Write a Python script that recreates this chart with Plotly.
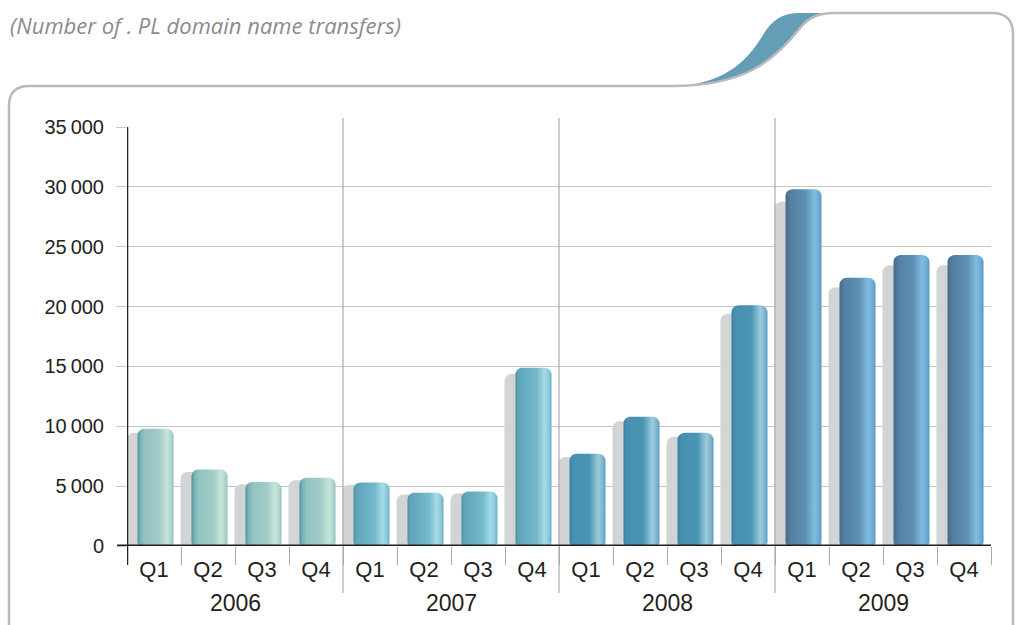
import math
import plotly.graph_objects as go

# ---------------- data ----------------
years = ["2006", "2007", "2008", "2009"]
quarters = ["Q1", "Q2", "Q3", "Q4"]
values = [9800, 6400, 5350, 5700,
          5300, 4450, 4550, 14900,
          7700, 10800, 9450, 20100,
          29800, 22400, 24300, 24300]
y_tickvals = [0, 5000, 10000, 15000, 20000, 25000, 30000, 35000]
y_ticktext = ["0", "5\u202f000", "10\u202f000", "15\u202f000", "20\u202f000",
              "25\u202f000", "30\u202f000", "35\u202f000"]
title_text = "(Number of . PL domain name transfers)"

year_scales = {
    "2006": [[0, "#45949a"], [0.08, "#79b2b4"], [0.2, "#93c3c3"], [0.6, "#a2ccc8"],
             [0.82, "#c6e5da"], [0.93, "#b0d6ce"], [1, "#8fbebe"]],
    "2007": [[0, "#4f8e9e"], [0.08, "#5fa5b8"], [0.3, "#67adc2"], [0.6, "#76b9cc"],
             [0.8, "#a5dbe6"], [0.92, "#8ccbdc"], [1, "#6aaec4"]],
    "2008": [[0, "#3d7f9d"], [0.1, "#4690b0"], [0.55, "#4a95b4"], [0.8, "#9ccbdd"],
             [0.92, "#7fb6cf"], [1, "#5a9ec0"]],
    "2009": [[0, "#476b8a"], [0.15, "#5480a2"], [0.55, "#5d90b3"], [0.8, "#80bde2"],
             [0.92, "#6eacd4"], [1, "#5a96c0"]],
}

# ---------------- geometry helpers ----------------
W, H = 1016, 625
ML, MR, MT, MB = 127, 25, 127, 79
PW, PH = W - ML - MR, H - MT - MB
YMAX = 35000
XMIN, XMAX = -0.5, 15.5
ux = PW / (XMAX - XMIN)  # px per x unit
uy = PH / YMAX           # px per y unit


def px2paper(px, py):
    return (px - ML) / PW, (H - MB - py) / PH


n = len(values)
xpos = list(range(n))
bar_w = 0.667
shadow_off = 9.5 / ux
shadow_vals = [v * 0.965 for v in values]

fig = go.Figure()

# shadows
fig.add_trace(go.Bar(
    x=xpos, y=shadow_vals, width=bar_w, offset=-bar_w / 2 - shadow_off,
    marker=dict(color="#d3d4d6", line=dict(width=0), cornerradius=7),
    hoverinfo="skip", showlegend=False))


def rounded_rect(x0, x1, y0, y1, r_px_top=7, r_px_bot=4):
    rxt, ryt = r_px_top / ux, r_px_top / uy
    rxb, ryb = r_px_bot / ux, r_px_bot / uy
    xs, ys = [], []
    steps = 8
    for k in range(steps + 1):
        a = math.pi + k * (math.pi / 2) / steps
        xs.append(x0 + rxb + rxb * math.cos(a)); ys.append(y0 + ryb + ryb * math.sin(a))
    for k in range(steps + 1):
        a = 1.5 * math.pi + k * (math.pi / 2) / steps
        xs.append(x1 - rxb + rxb * math.cos(a)); ys.append(y0 + ryb + ryb * math.sin(a))
    for k in range(steps + 1):
        a = k * (math.pi / 2) / steps
        xs.append(x1 - rxt + rxt * math.cos(a)); ys.append(y1 - ryt + ryt * math.sin(a))
    for k in range(steps + 1):
        a = 0.5 * math.pi + k * (math.pi / 2) / steps
        xs.append(x0 + rxt + rxt * math.cos(a)); ys.append(y1 - ryt + ryt * math.sin(a))
    xs.append(xs[0]); ys.append(ys[0])
    return xs, ys


# main bars: rounded rectangles with horizontal gradients
for i, v in enumerate(values):
    yr = years[i // 4]
    x0 = xpos[i] - bar_w / 2 + 1.5 / ux
    x1 = xpos[i] + bar_w / 2 + 1.5 / ux
    xs, ys = rounded_rect(x0, x1, 0, v)
    fig.add_trace(go.Scatter(
        x=xs, y=ys, mode="none", fill="toself",
        fillgradient=dict(type="horizontal", colorscale=year_scales[yr], start=x0, stop=x1),
        hoverinfo="skip", showlegend=False))

# ---------------- decorations ----------------
shapes = []
grey = "#b9babd"


def P(px, py):
    a, b = px2paper(px, py)
    return f"{a:.5f},{b:.5f}"


frame = (f"M {P(9, 640)} L {P(9, 106)} Q {P(9, 86)} {P(29, 86)} L {P(673, 86)} "
         f"C {P(745, 86)} {P(775, 60)} {P(800, 28)} C {P(810, 16)} {P(820, 13)} {P(835, 13)} "
         f"L {P(992, 13)} Q {P(1013, 13)} {P(1013, 34)} L {P(1013, 640)}")

wave = (f"M {P(673, 86)} C {P(720, 85)} {P(745, 65)} {P(763, 35)} "
        f"C {P(772, 20)} {P(782, 13)} {P(800, 13)} L {P(835, 13)} "
        f"C {P(820, 13)} {P(810, 16)} {P(800, 28)} C {P(775, 60)} {P(745, 86)} {P(673, 86)} Z")
shapes.append(dict(type="path", path=wave, xref="paper", yref="paper",
                   fillcolor="#639db6", line=dict(width=0), layer="below"))
shapes.append(dict(type="path", path=frame, xref="paper", yref="paper",
                   line=dict(color=grey, width=2.5), layer="below"))

for k in range(1, len(years)):
    xs_ = 4 * k - 0.5
    shapes.append(dict(type="line", xref="x", yref="paper", x0=xs_, x1=xs_,
                       y0=px2paper(0, 593)[1], y1=px2paper(0, 118)[1],
                       line=dict(color="#a9aaad", width=1.2), layer="above"))

shapes.append(dict(type="line", xref="paper", yref="y",
                   x0=px2paper(117, 0)[0], x1=1.0, y0=0, y1=0,
                   line=dict(color="#231f20", width=3)))
shapes.append(dict(type="line", xref="x", yref="paper", x0=XMIN, x1=XMIN,
                   y0=px2paper(0, 565)[1], y1=1.0,
                   line=dict(color="#231f20", width=2.5)))

annotations = []
for k, yr in enumerate(years):
    annotations.append(dict(x=4 * k + 1.5, y=px2paper(0, 603)[1], xref="x", yref="paper",
                            text=yr, showarrow=False, xanchor="center", yanchor="middle",
                            font=dict(family="Liberation Sans, Arial", size=23, color="#231f20")))
annotations.append(dict(x=px2paper(8, 0)[0], y=px2paper(0, 25)[1], xref="paper", yref="paper",
                        text=f"<i>{title_text}</i>", showarrow=False, xanchor="left",
                        yanchor="middle",
                        font=dict(family="Open Sans, Lato", size=22, color="#8b8b8e")))

fig.update_layout(
    width=W, height=H,
    margin=dict(l=ML, r=MR, t=MT, b=MB),
    paper_bgcolor="white", plot_bgcolor="white",
    barmode="overlay", showlegend=False,
    shapes=shapes, annotations=annotations,
    xaxis=dict(range=[XMIN, XMAX], showgrid=False, zeroline=False, showline=False,
               tickmode="array", tickvals=xpos, ticktext=quarters * len(years),
               ticks="", ticklabelstandoff=8,
               tickfont=dict(family="Liberation Sans, Arial", size=22, color="#231f20"),
               minor=dict(tickmode="array", tickvals=[k - 0.5 for k in range(n + 1)],
                          ticks="outside", ticklen=18, tickcolor="#a9aaad", tickwidth=1.2)),
    yaxis=dict(range=[0, YMAX], showgrid=True, gridcolor="#c6c6c8", gridwidth=1,
               zeroline=False, showline=False,
               tickmode="array", tickvals=y_tickvals, ticktext=y_ticktext,
               ticks="outside", ticklen=10, tickcolor="#c6c6c8", ticklabelstandoff=8,
               tickfont=dict(family="Liberation Sans, Arial", size=20, color="#231f20")),
)

fig.write_html("out.html", config={"displayModeBar": False},
               post_script="document.body.style.margin='0px';document.body.style.overflow='hidden';")
